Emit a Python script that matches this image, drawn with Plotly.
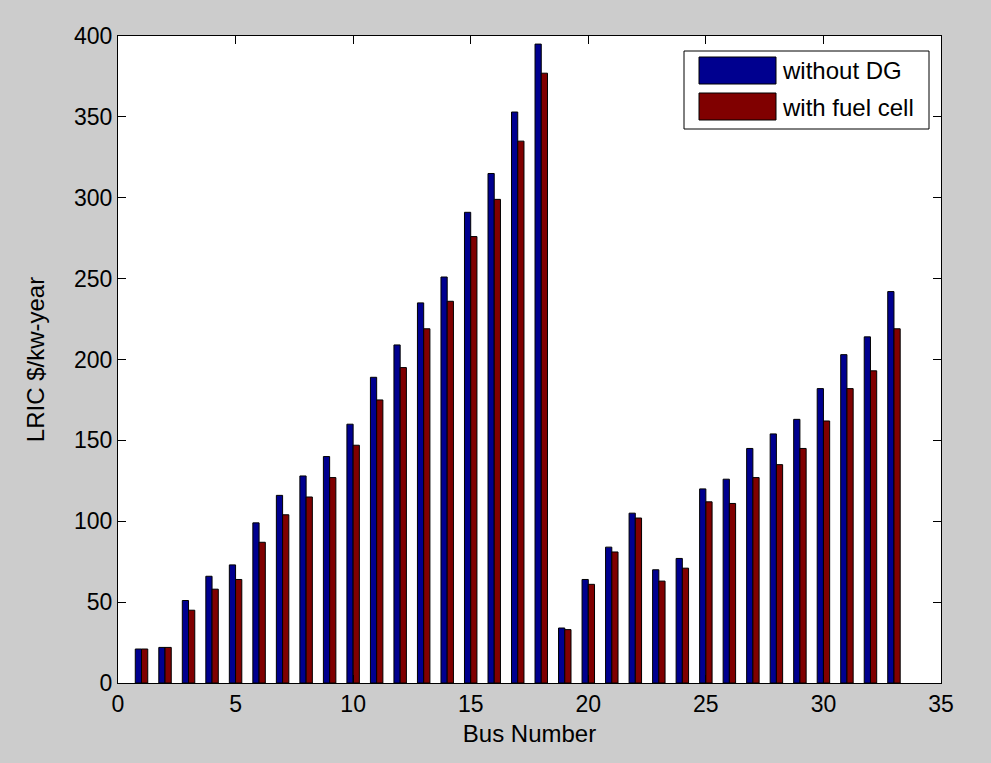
import plotly.graph_objects as go

bus = list(range(1, 34))
without_dg = [21, 22, 51, 66, 73, 99, 116, 128, 140, 160, 189, 209, 235, 251, 291, 315, 353, 395,
              34, 64, 84, 105, 70, 77, 120, 126, 145, 154, 163, 182, 203, 214, 242]
with_fuel_cell = [21, 22, 45, 58, 64, 87, 104, 115, 127, 147, 175, 195, 219, 236, 276, 299, 335, 377,
                  33, 61, 81, 102, 63, 71, 112, 111, 127, 135, 145, 162, 182, 193, 219]
series_names = ["without DG", "with fuel cell"]
series_colors = ["#00008F", "#800000"]

FONT = "Liberation Sans, Arial, sans-serif"
FS = 23
FT = 24

fig = go.Figure()
for name, vals, col in zip(series_names, [without_dg, with_fuel_cell], series_colors):
    fig.add_trace(go.Bar(x=bus, y=vals, name=name, marker=dict(color=col, line=dict(color="black", width=1)),
                         showlegend=False))

fig.update_layout(
    width=991, height=763,
    paper_bgcolor="#CCCCCC", plot_bgcolor="white",
    margin=dict(l=118, r=50, t=36, b=80),
    barmode="group", bargap=0.47, bargroupgap=0,
    font=dict(family=FONT, size=FS, color="black"),
    xaxis=dict(range=[0, 35], dtick=5, tick0=0, ticks="inside", ticklen=8, tickcolor="black",
               showline=True, linecolor="black", linewidth=1, mirror="ticks", showgrid=False, zeroline=False,
               title=dict(text="Bus Number", standoff=9, font=dict(size=FT)), tickfont=dict(size=FS)),
    yaxis=dict(range=[0, 400], dtick=50, tick0=0, ticks="inside", ticklen=8, tickcolor="black",
               showline=True, linecolor="black", linewidth=1, mirror="ticks", showgrid=False, zeroline=False,
               title=dict(text="LRIC $/kw-year", standoff=22, font=dict(size=FT)), tickfont=dict(size=FS)),
)

# MATLAB-style legend box
def px(x):
    return (x - 118) / 823
def py(y):
    return (683 - y) / 647

shapes = [dict(type="rect", xref="paper", yref="paper", x0=px(684), x1=px(929), y0=py(129), y1=py(51),
               fillcolor="white", line=dict(color="black", width=1), layer="above")]
rows = [(57, 84, 70), (93, 120, 107)]
annotations = []
for (t, b, c), name, col in zip(rows, series_names, series_colors):
    shapes.append(dict(type="rect", xref="paper", yref="paper", x0=px(699), x1=px(776), y0=py(b), y1=py(t),
                       fillcolor=col, line=dict(color="black", width=1), layer="above"))
    annotations.append(dict(xref="paper", yref="paper", x=px(780), y=py(c), text=name, showarrow=False,
                            xanchor="left", yanchor="middle", font=dict(size=FT, color="black")))
fig.update_layout(shapes=shapes, annotations=annotations)

fig.write_html("out.html")
